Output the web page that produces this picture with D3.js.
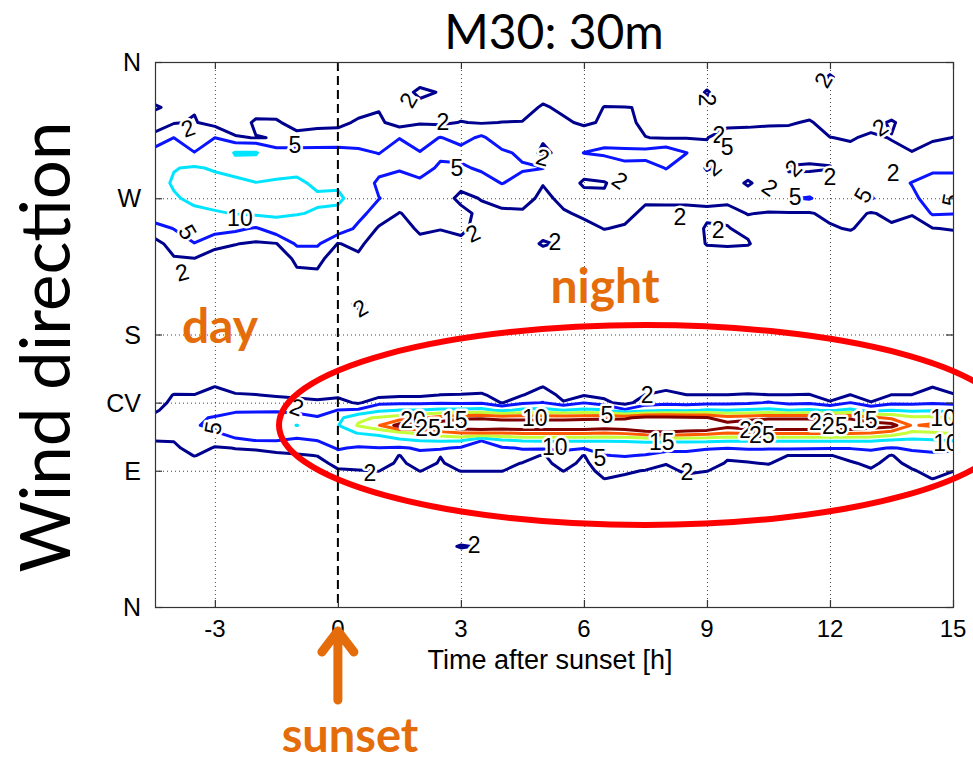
<!DOCTYPE html>
<html>
<head>
<meta charset="utf-8">
<script src="https://cdn.jsdelivr.net/npm/d3@7"></script>
<style>
  html, body { margin: 0; padding: 0; background: #ffffff; }
  svg { display: block; }
</style>
</head>
<body>
<svg id="chart" width="973" height="765"></svg>
<script>
// ---------------- DATA ----------------
// time after sunset [h] of each grid column
const times = [-5,-4.5,-4,-3.5,-3,-2.5,-2,-1.5,-1,-0.5,0,0.5,1,1.5,2,2.5,3,3.5,4,4.5,5,5.5,6,6.5,7,7.5,8,8.5,9,9.5,10,10.5,11,11.5,12,12.5,13,13.5,14,14.5,15,15.5];

// south-east band: directions [deg] of the rows (5 deg bins)
const lowDirs = [35,40,45,50,55,60,65,70,75,80,85,90,95,100,105,110,115,120,125,130,135,140,145,150,155,160];
// frequency [%] per time column (one array per column, rows = lowDirs)
const lowBand = [
 [0,0,0,0,0,0,0,0, 0,0,0.3,0.5,0.7,0.9,1.2,2.05,2.8,3,2.6,1.5,1,0.8,0.5,0.3,0,0],
 [0,0,0,0,0,0,0,0, 0,0,0.3,0.5,0.7,0.9,1.2,2.05,2.8,3,2.6,1.5,1,0.8,0.5,0.3,0,0],
 [0,0,0,0,0,0,0,0, 0,0,0.3,0.5,0.8,1.2,1.5,2.1,3.5,4.5,4,3.2,2.5,2.1,1.2,0.6,0,0],
 [0,0,0,0,0,0,0,0, 0,0,0.3,0.6,1.3,2.05,3,3.8,4.3,4.8,4.6,3.6,2.7,2.05,1.2,0.5,0,0],
 [0,0,0,0,0,0,0,0, 0,0,0.3,0.6,1,1.5,1.8,3,4.6,5.5,5.2,4,3.2,2.6,2.1,1.2,0.3,0],
 [0,0,0,0,0,0,0,0, 0,0,0.3,0.6,1,1.5,2.05,4.3,6.5,7,6.5,4.4,3.2,2.2,1.3,0.5,0,0],
 [0,0,0,0,0,0,0,0, 0,0,0.3,0.6,1.1,1.4,2.2,5.05,7,7.5,6.8,4.4,3,2.05,1.2,0.5,0,0],
 [0,0,0,0,0,0,0,0, 0,0,0.3,0.6,1.1,1.6,2.6,5.1,7.5,8,7,4.5,2.8,1.8,1,0.5,0,0],
 [0,0,0,0,0,0,0,0, 0,0,0.3,0.6,1.1,1.8,2.8,4.2,7,10.1,6.5,4,2.6,1.6,0.9,0.4,0,0],
 [0,0,0,0,0,0,0,0, 0,0,0.3,0.7,1.3,2.05,3.2,5.05,7,7.5,5.3,3.5,2.3,1.5,0.8,0.4,0,0],
 [0,0,0,0,0,0,0,0, 0,0.5,1,1.8,2.6,4,5.3,7,8.5,9.8,8.5,5.05,2.9,1.5,0.8,0.4,0,0],
 [0,0,0,0,0,0,0,0, 0,0.5,1,1.9,2.8,3.8,4.6,7,10.2,15.5,14,5.5,1.6,0.8,0.5,0.3,0,0],
 [0,0,0,0,0,0,0,0, 0,0.6,1.2,2.05,3.3,4.2,4.9,8,11,19.8,15.5,9,3.8,1.2,0.6,0.3,0,0],
 [0,0,0,0,0,0,0,0, 0,0.3,0.6,1,1.5,1.9,4.5,9,14,27,17,10.1,4,1.5,0.7,0.3,0,0],
 [0,0,0,0,0,0,0,0, 0,0.5,1.2,2.05,3,4,5.5,10.2,16,26,19,10.1,4,1.5,0.7,0.3,0,0],
 [0,0,0,0,0,0,0,0, 0,0.5,1,1.5,1.8,2.05,5.5,10.5,18,28,22,11,4.5,2.05,1,0.4,0,0],
 [0,2.5,0,0,0,0,0,0, 0,0.6,1.3,2.05,2.8,3.8,4.4,10.5,20,30,24,11,4.2,2.1,1,0.4,0,0],
 [0,1.5,0,0,0,0,0,0, 0,0.6,1.3,2.05,2.6,3.3,4.2,5.05,20,31,24,11.5,4.5,2.3,1.1,0.4,0,0],
 [0,0,0,0,0,0,0,0, 0,0.6,1.3,2.05,2.8,3.6,4.5,9.5,20,30,23,9,1.8,1.1,0.6,0.3,0,0],
 [0,0,0,0,0,0,0,0, 0,0.5,1,1.4,1.9,3.5,5.3,10.3,21,30,23,11,4.3,1.9,1,0.4,0,0],
 [0,0,0,0,0,0,0,0, 0,0.4,0.8,1.1,1.4,1.7,5.5,10.5,21,30,23,11.5,5.1,3.5,2.1,1,0.4,0],
 [0,0,0,0,0,0,0,0, 0,0.6,1.2,2.05,2.8,3.8,5.6,10.5,21,30,23,10,2.2,1.2,0.6,0.3,0,0],
 [0,0,0,0,0,0,0,0, 0,0.4,0.8,1.1,1.5,1.9,5.2,10.5,21,30,23.5,11,4.8,1.8,0.9,0.4,0,0],
 [0,0,0,0,0,0,0,0, 0.5,1,2.05,2.8,3.5,4.9,6,10.5,20,29,24,10.5,2.6,1.4,0.7,0.3,0,0],
 [0,0,0,0,0,0,0,0, 0.5,1,1.7,2.3,3.5,5.2,6.5,10.5,21,30,24,5.5,1,0.6,0.3,0.2,0,0],
 [0,0,0,0,0,0,0,0, 0.4,0.8,1.4,1.9,3.2,4.8,6.5,11,23,32,27,8,3.5,2.05,1,0.4,0,0],
 [0,0,0,0,0,0,0,0, 0.3,0.6,1,1.5,2.1,3.8,6,11,24,32,27,9,4,2.8,1.5,0.6,0,0],
 [0,0,0,0,0,0,0,0, 0.5,1,1.6,2.3,3,4.2,5.7,11,23,31,26,9,3.5,2.05,1,0.4,0,0],
 [0,0,0,0,0,0,0,0, 0.4,0.8,1.3,2.05,3,4,5.2,11,22,31,25.3,10.5,3.8,2.05,1,0.4,0,0],
 [0,0,0,0,0,0,0,0, 0.3,0.6,1,1.4,1.8,2.3,5.1,10.5,20,27,22,10,4,2.05,1,0.4,0,0],
 [0,0,0,0,0,0,0,0, 0.3,0.6,1,1.4,1.9,2.6,5.5,10.5,21,29,23,10.5,4.2,2.2,1.1,0.4,0,0],
 [0,0,0,0,0,0,0,0, 0.3,0.6,1,1.4,2.1,3.2,5.3,10.5,21,30,24,11,5.3,2.05,1,0.4,0,0],
 [0,0,0,0,0,0,0,0, 0.3,0.5,0.8,1.1,1.4,1.9,5.5,10.5,21,30,24,10,4,2.05,1,0.4,0,0],
 [0,0,0,0,0,0,0,0, 0.3,0.5,0.8,1.1,1.4,1.9,5.3,10.5,21,30,24,10.5,4.2,2.1,1,0.4,0,0],
 [0,0,0,0,0,0,0,0, 0.3,0.5,0.8,1.1,1.4,1.9,5.2,10.5,21,30,24,9.5,2.2,1.2,0.6,0.3,0,0],
 [0,0,0,0,0,0,0,0, 0.3,0.5,0.8,1.2,1.8,2.6,5.2,10.5,21,30,24,11,5,2.05,1,0.4,0,0],
 [0,0,0,0,0,0,0,0, 0.4,0.8,1.3,1.8,2.4,3.6,5.6,10.5,20,28,21,8,2.1,1.1,0.5,0.3,0,0],
 [0,0,0,0,0,0,0,0, 0.3,0.5,0.8,1.1,1.4,1.8,4.8,9.5,18,27,19,10,4,2.05,1,0.4,0,0],
 [0,0,0,0,0,0,0,0, 0.4,0.8,1.3,1.8,2.6,4,5.5,9,14,19.5,16,9,4,2.05,1,0.4,0,0],
 [0,0,0,0,0,0,0,0, 0.5,1.2,2.05,2.7,3.5,4.4,5.8,9.5,14.5,21,16,9.5,4.5,3,2.05,1,0.4,0],
 [0,0,0,0,0,0,0,0, 0.4,0.8,1.5,2.05,3,4.3,5.5,10.1,15.5,18,14.5,8.5,4,2.2,1.1,0.4,0,0],
 [0,0,0,0,0,0,0,0, 0.4,0.8,1.5,2.1,3,4.2,5.4,10,15.3,17.5,14.5,8.5,4,2.2,1.1,0.4,0,0]
];

// westerly band: directions [deg] of the rows (10 deg bins)
const highDirs = [180,190,200,210,220,230,240,250,260,270,280,290,300,310,320,330,340,350,360];
const highBand = [
 [0,0,0,0,0.5,0.8,1,3.5,7.2,8,8,7.5,6,3,0,2.6,0,0,0],
 [0,0,0,0,0.5,0.8,1,3.5,7.2,8,8,7.5,6,3,0,2.6,0,0,0],
 [0,0,0,0,0.5,1.8,3,5.1,8,9.5,10.5,9.8,7.5,5,1.8,1,0,0,0],
 [0,0,0,0,0.5,1.9,4.9,7,9,11,12,10.5,5.1,3,2.2,1.8,0.5,0,0],
 [0,0,0,0,0.3,1.2,2.5,6.5,9.5,12,11.5,9.5,6.5,5,1,0.5,0,0,0],
 [0,0,0,0,0,0.8,2.1,5.7,10.2,12.5,11,8.5,10.3,2.3,0.3,0,0,0,0],
 [0,0,0,0,0,0.5,1.6,4.6,10.8,13,10.1,8,10.3,1.9,2.5,0.5,0,0,0],
 [0,0,0,0,0,0.5,1.9,7,11,12,10.5,8.5,6.5,2.1,2.4,0.5,0,0,0],
 [0,0,0,0,1.6,2.5,5.5,7,10.3,12,11,8.5,6,3,0.8,0,0,0,0],
 [0,0,0,0,1.7,2.6,5.5,7.5,9.5,10.8,9,7.5,6,3.2,1.2,0,0,0,0],
 [0,0,0,0,0.3,0.8,1.9,7,9,10.8,9.3,7.5,6,3.3,1.3,0.3,0,0,0],
 [0,0,2.8,0,0.3,1.5,2.6,4.3,6,8,8.5,7.5,5.6,3.5,2.4,1,0,0,0],
 [0,0,0,0,0,0.2,0.5,1.7,3.5,5.1,4,6.5,4.9,3.5,2.5,1.8,0.5,0,0],
 [0,0,0,0,0,0,0.3,1.2,1.9,3.5,4.2,5.2,6.5,4.9,0.8,0.5,0.5,0,0],
 [0,0,0,0,0,0.5,1.5,2.3,2.8,3.5,4.5,6,5.1,4,1.8,1,2.7,0.5,0],
 [0,0,0,0,0,0.3,1,2.1,2.8,3,3.8,4.6,5.5,5.1,1.5,0.8,1.8,0.3,0],
 [0,0,0,0,0,0.5,1.3,2.6,2.6,1.5,2.6,4.5,6,4,2.1,1,0.5,0,0],
 [0,0,0,0,0,0,0.5,1,1.5,2.1,3.5,5.5,7,5.5,1.8,0.5,0,0,0],
 [0,0,0,0,0,0,0.3,0.8,1.6,2.8,5.1,6.5,5.5,3.3,2.05,0.5,0,0,0],
 [0,0,0,0,0,0,0.3,0.8,1.7,2.8,4,5.3,4.5,3.5,2.1,1,0.3,0,0],
 [0,0,0,0,0,0,2.4,0.5,1,1.5,2.1,5.1,1.2,2.5,3,2.3,1,0,0],
 [0,0,0,0,0,0,1.5,1,1.8,2.5,2.8,3,3.2,3.5,2.4,1.5,0.5,0,0],
 [0,0,0,0,0,0,0.5,1.5,2.3,2.5,1.8,2.6,5.05,3.5,1.6,0.5,0,0,0],
 [0,0,0,0,0,0,1,2.05,2.6,2.2,1.9,3,5.5,4,2.3,2.1,0.5,0,0],
 [0,0,0,0,0,0,1,1.8,2.5,2.6,2.8,4.5,5.6,3.5,2.6,2.05,0.5,0,0],
 [0,0,0,0,0,0,0,0.8,1.6,2.3,2.8,4,6,2.05,1.5,1.9,0.3,0,0],
 [0,0,0,0,0,0,0,0.8,1.5,2.4,3.5,5.1,7,1.8,0.5,0.3,0,0,0],
 [0,0,0,0,0,0,0,0.5,1.5,2.4,3,3.8,5.05,1.9,0.5,0,0,0,0],
 [0,0,0,0,0,0.3,2.2,2.3,1.5,2.6,3,1.8,3.2,1.8,0.5,1.2,2.3,0.3,0],
 [0,0,0,0,0,0.3,2.4,2.1,1.6,2.3,2.8,2.5,3.5,5.1,0.3,0.3,0,0,0],
 [0,0,0,0,0,0.3,2.2,1.5,2.05,2.8,1.8,2.9,3.5,3.5,1.3,0.3,0,0,0],
 [0,0,0,0,0,0,0.5,1.2,1.9,3,2.8,3.2,3.4,3,1.7,0.5,0,0,0],
 [0,0,0,0,0,0,0.5,1.2,1.8,4.8,2.6,1.8,3,3.3,1.7,0.3,0,0,0],
 [0,0,0,0,0,0,0.5,1.3,1.8,5.2,3,1.7,2.8,3.6,2.3,0.5,0,0,0],
 [0,0,0,0,0,0,0.5,1.7,2.6,3.5,3.2,1.9,2.6,2.05,0.8,0.5,0.5,2.4,0],
 [0,0,0,0,0,0,0.5,2.2,2.8,3.6,3.8,3,2.6,1.8,0.5,0.3,0,0,0],
 [0,0,0,0,0,0,0.5,1,1.8,5.2,4.5,3.5,3,2.4,1.2,0.3,0,0,0],
 [0,0,0,0,0,0,0.5,1.6,2.6,3.5,4,3.3,2.5,1.9,2.3,0.5,0,0,0],
 [0,0,0,0,0,0,0.5,1.4,2.1,4.5,5.1,3.5,2.05,1.5,0.8,0.3,0,0,0],
 [0,0,0,0,0,0,0.5,1.9,5.3,6,6,4.5,3.5,1.5,0.5,0,0,0,0],
 [0,0,0,0,0,0,0.5,2.2,5.1,6.5,6,4.5,3,2.05,0.5,0,0,0,0],
 [0,0,0,0,0,0,0.5,2.2,5,6,5.5,4,3,2,0.5,0,0,0,0]
];

// contour levels
const levels = [2, 5, 10, 15, 20, 25];

// axes
const xTickValues = [-3, 0, 3, 6, 9, 12, 15];
const xTickLabels = ["-3", "0", "3", "6", "9", "12", "15"];
const yTickValues = [0, 90, 135, 180, 270, 360];
const yTickLabels = ["N", "E", "CV", "S", "W", "N"];

// inline contour labels: [time, direction, text, rotation]
const contourLabels = [
 [-3.66,316.4,"2",-20], [-1.05,305.2,"5",0], [-2.39,256.9,"10",0], [-3.66,247.7,"5",60],
 [-3.80,221.3,"2",-15], [1.71,334.9,"2",-60], [2.56,320.3,"2",0], [2.90,290.0,"5",0],
 [5.00,297.2,"2",15], [3.29,247.0,"2",-25], [5.29,241.1,"2",0], [6.88,282.0,"2",35],
 [8.34,257.6,"2",0], [9.00,334.9,"2",90], [9.29,311.8,"2",0], [9.49,303.8,"5",0],
 [9.15,290.6,"2",-40], [10.54,277.4,"2",35], [9.27,249.0,"2",0], [11.15,270.8,"5",0],
 [11.10,290.0,"2",-45], [12.00,284.0,"2",0], [13.22,317.0,"2",-35], [13.54,286.7,"2",0],
 [12.80,272.1,"5",-60], [11.83,348.1,"2",-60], [14.93,268.8,"5",-80], [0.54,197.5,"2",-30],
 [-3.05,118.2,"5",-80], [-1.00,132.1,"2",20], [0.78,88.5,"2",0],
 [1.83,123.5,"20",0], [2.20,118.2,"25",0], [2.85,123.5,"15",0],
 [4.80,124.8,"10",0], [6.56,126.8,"5",0], [5.29,105.7,"10",0], [6.39,98.4,"5",0],
 [7.90,109.0,"15",0], [7.54,140.0,"2",0], [8.51,89.2,"2",0],
 [10.10,116.9,"20",0], [10.34,113.6,"25",0], [11.80,122.2,"20",0], [12.12,119.5,"25",0],
 [12.85,123.5,"15",0], [14.76,124.8,"10",0], [14.83,108.3,"10",0], [3.32,41.0,"2",0]
];

// ---------------- STYLE ----------------
const levelColors = ["#00008f", "#0a14ff", "#00e4ff", "#c4ff3a", "#ff5a00", "#800000"];
const orange = "#e46c0a";
const tickFont = "'Liberation Sans', Arial, sans-serif";
const titleFont = "Lato, 'Open Sans', sans-serif";

// ---------------- CHART ----------------
const svg = d3.select("#chart");
const x = d3.scaleLinear().domain([-4.46, 15]).range([155, 953]);
const y = d3.scaleLinear().domain([0, 360]).range([607, 62]);
const [x0, x1] = x.range();
const [yb, yt] = y.range();

svg.append("rect").attr("width", 973).attr("height", 765).attr("fill", "#fff");

svg.append("defs").append("clipPath").attr("id", "plotClip")
  .append("rect").attr("x", x0).attr("y", yt).attr("width", x1 - x0).attr("height", yb - yt);

// dotted grid
const grid = svg.append("g").attr("stroke", "#444").attr("stroke-width", 1).attr("stroke-dasharray", "1,3");
grid.selectAll("line.gx").data(xTickValues.filter(v => v !== 0 && v !== 15)).join("line")
  .attr("x1", d => x(d) + 0.5).attr("x2", d => x(d) + 0.5).attr("y1", yt).attr("y2", yb);
grid.selectAll("line.gy").data(yTickValues.filter(v => v !== 0 && v !== 360)).join("line")
  .attr("x1", x0).attr("x2", x1).attr("y1", d => y(d) + 0.5).attr("y2", d => y(d) + 0.5);

const plot = svg.append("g").attr("clip-path", "url(#plotClip)");

function drawBand(cols, dirs) {
  const nx = times.length, ny = dirs.length;
  const values = [];
  for (let j = 0; j < ny; j++) for (let i = 0; i < nx; i++) values.push(cols[i][j]);
  const dt = times[1] - times[0], dd = dirs[1] - dirs[0];
  const path = d3.geoPath(d3.geoTransform({
    point: function (gx, gy) {
      this.stream.point(x(times[0] + (gx - 0.5) * dt), y(dirs[0] + (gy - 0.5) * dd));
    }
  }));
  const gen = d3.contours().size([nx, ny]).thresholds(levels);
  gen(values).forEach(c => {
    plot.append("path")
      .attr("d", path(c))
      .attr("fill", "none")
      .attr("stroke", levelColors[levels.indexOf(c.value)])
      .attr("stroke-width", 3)
      .attr("stroke-linejoin", "round");
  });
}
drawBand(highBand, highDirs);
drawBand(lowBand, lowDirs);

// inline contour labels
plot.selectAll("text.cl").data(contourLabels).join("text")
  .attr("transform", d => `translate(${x(d[0])},${y(d[1])}) rotate(${d[3]})`)
  .attr("text-anchor", "middle").attr("dy", "0.36em")
  .attr("font-family", tickFont).attr("font-size", 23)
  .attr("fill", "#000").attr("stroke", "#fff").attr("stroke-width", 5)
  .attr("stroke-linejoin", "round").attr("paint-order", "stroke")
  .text(d => d[2]);

// sunset line
svg.append("line").attr("x1", x(0)).attr("x2", x(0)).attr("y1", yt).attr("y2", yb)
  .attr("stroke", "#000").attr("stroke-width", 2).attr("stroke-dasharray", "9,5");

// frame
svg.append("rect").attr("x", x0 + 0.5).attr("y", yt + 0.5).attr("width", x1 - x0).attr("height", yb - yt)
  .attr("fill", "none").attr("stroke", "#333").attr("stroke-width", 1.2);

// ticks
const ticks = svg.append("g").attr("stroke", "#333").attr("stroke-width", 1.2);
xTickValues.forEach(v => {
  ticks.append("line").attr("x1", x(v) + 0.5).attr("x2", x(v) + 0.5).attr("y1", yb).attr("y2", yb - 7);
  ticks.append("line").attr("x1", x(v) + 0.5).attr("x2", x(v) + 0.5).attr("y1", yt).attr("y2", yt + 7);
});
yTickValues.forEach(v => {
  ticks.append("line").attr("x1", x0).attr("x2", x0 + 7).attr("y1", y(v) + 0.5).attr("y2", y(v) + 0.5);
  ticks.append("line").attr("x1", x1).attr("x2", x1 - 7).attr("y1", y(v) + 0.5).attr("y2", y(v) + 0.5);
});

// tick labels
svg.selectAll("text.xt").data(xTickValues).join("text")
  .attr("x", d => x(d)).attr("y", 637).attr("text-anchor", "middle")
  .attr("font-family", tickFont).attr("font-size", 24).attr("fill", "#000")
  .text((d, i) => xTickLabels[i]);
svg.selectAll("text.yt").data(yTickValues).join("text")
  .attr("x", 141).attr("y", d => y(d)).attr("dy", "0.36em").attr("text-anchor", "end")
  .attr("font-family", tickFont).attr("font-size", 25).attr("fill", "#000")
  .text((d, i) => yTickLabels[i]);

// axis label and title
svg.append("text").attr("x", (x0 + x1) / 2 - 4).attr("y", 669).attr("text-anchor", "middle")
  .attr("font-family", tickFont).attr("font-size", 27).attr("fill", "#000")
  .text("Time after sunset [h]");
svg.append("text").attr("x", 554).attr("y", 49).attr("text-anchor", "middle")
  .attr("font-family", titleFont).attr("font-size", 48).attr("fill", "#000")
  .text("M30: 30m");
svg.append("text").attr("transform", "translate(70,347) rotate(-90)").attr("text-anchor", "middle")
  .attr("font-family", titleFont).attr("font-size", 69).attr("fill", "#000")
  .text("Wind direction");

// annotations
svg.append("ellipse").attr("cx", 645).attr("cy", 425).attr("rx", 366).attr("ry", 100)
  .attr("fill", "none").attr("stroke", "#ff0000").attr("stroke-width", 6);

svg.append("text").attr("x", 220).attr("y", 343).attr("text-anchor", "middle")
  .attr("font-family", titleFont).attr("font-weight", "bold").attr("font-size", 48).attr("fill", orange)
  .text("day");
svg.append("text").attr("x", 605).attr("y", 303).attr("text-anchor", "middle")
  .attr("font-family", titleFont).attr("font-weight", "bold").attr("font-size", 48).attr("fill", orange)
  .text("night");
svg.append("text").attr("x", 350).attr("y", 752).attr("text-anchor", "middle")
  .attr("font-family", titleFont).attr("font-weight", "bold").attr("font-size", 47).attr("fill", orange)
  .text("sunset");
svg.append("path").attr("d", `M${x(0)},700 L${x(0)},632 M${x(0) - 16},652 L${x(0)},631 L${x(0) + 16},652`)
  .attr("fill", "none").attr("stroke", orange).attr("stroke-width", 9)
  .attr("stroke-linecap", "round").attr("stroke-linejoin", "round");
</script>
</body>
</html>
